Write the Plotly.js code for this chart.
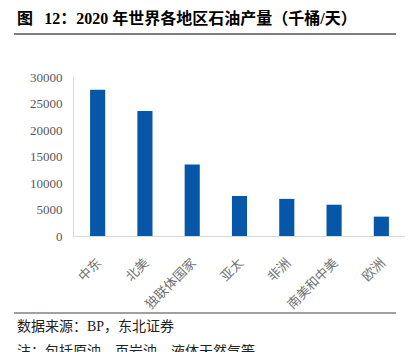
<!DOCTYPE html>
<html><head><meta charset="utf-8">
<script src="https://cdn.plot.ly/plotly-3.0.1.min.js"></script>
<style>html,body{margin:0;padding:0;background:#fff;}#c{width:414px;height:352px;}</style>
</head><body><div id="c"></div>
<script>
var categories = ["中东","北美","独联体国家","亚太","非洲","南美和中美","欧洲"];
var production = [27600, 23600, 13500, 7550, 7000, 5900, 3650];
var yTicks = [0,5000,10000,15000,20000,25000,30000];

var L=74, R=405, T=77, B=236;
function px(x){return (x-L)/(R-L);}
function py(y){return (B-y)/(B-T);}
var serifCJK = "'Times New Roman','Liberation Serif','Noto Sans CJK SC',serif";

var data=[{type:'bar',x:categories,y:production,marker:{color:'#0757a8'},width:0.32,hoverinfo:'none'}];
var layout={
  width:414,height:352,margin:{l:L,r:414-R,t:T,b:352-B},
  paper_bgcolor:'#fff',plot_bgcolor:'#fff',showlegend:false,
  xaxis:{showline:true,linecolor:'#d9d9d9',linewidth:1,ticks:'',tickangle:-45,ticklabelstandoff:13,
    tickfont:{family:"'Noto Sans CJK SC',sans-serif",size:13,color:'#737373'},showgrid:false,zeroline:false,fixedrange:true},
  yaxis:{range:[0,30000],tickvals:yTicks,ticktext:yTicks.map(String),showline:true,linecolor:'#d9d9d9',linewidth:1,
    ticks:'',ticklen:0,showgrid:false,zeroline:false,tickfont:{family:"'Times New Roman','Liberation Serif',serif",size:13,color:'#595959'},
    ticklabelstandoff:8,fixedrange:true},
  shapes:[
    {type:'line',xref:'paper',yref:'paper',x0:px(14),x1:px(396),y0:py(34),y1:py(34),line:{color:'#7f7f7f',width:2}},
    {type:'line',xref:'paper',yref:'paper',x0:px(14),x1:px(396),y0:py(313),y1:py(313),line:{color:'#404040',width:1}}
  ],
  annotations:[
    {xref:'paper',yref:'paper',x:px(15),y:py(18),xanchor:'left',yanchor:'middle',showarrow:false,
     text:'<b>图\u2002\u200912：2020 年世界各地区石油产量（千桶/天）</b>',font:{family:serifCJK,size:16,color:'#000'}},
    {xref:'paper',yref:'paper',x:px(15),y:py(326),xanchor:'left',yanchor:'middle',showarrow:false,
     text:'数据来源：BP，东北证券',font:{family:serifCJK,size:14,color:'#222'}},
    {xref:'paper',yref:'paper',x:px(15),y:py(351),xanchor:'left',yanchor:'middle',showarrow:false,
     text:'注：包括原油、页岩油、液体天然气等',font:{family:serifCJK,size:14,color:'#222'}}
  ]
};
Plotly.newPlot('c',data,layout,{displayModeBar:false,staticPlot:true});
</script></body></html>
